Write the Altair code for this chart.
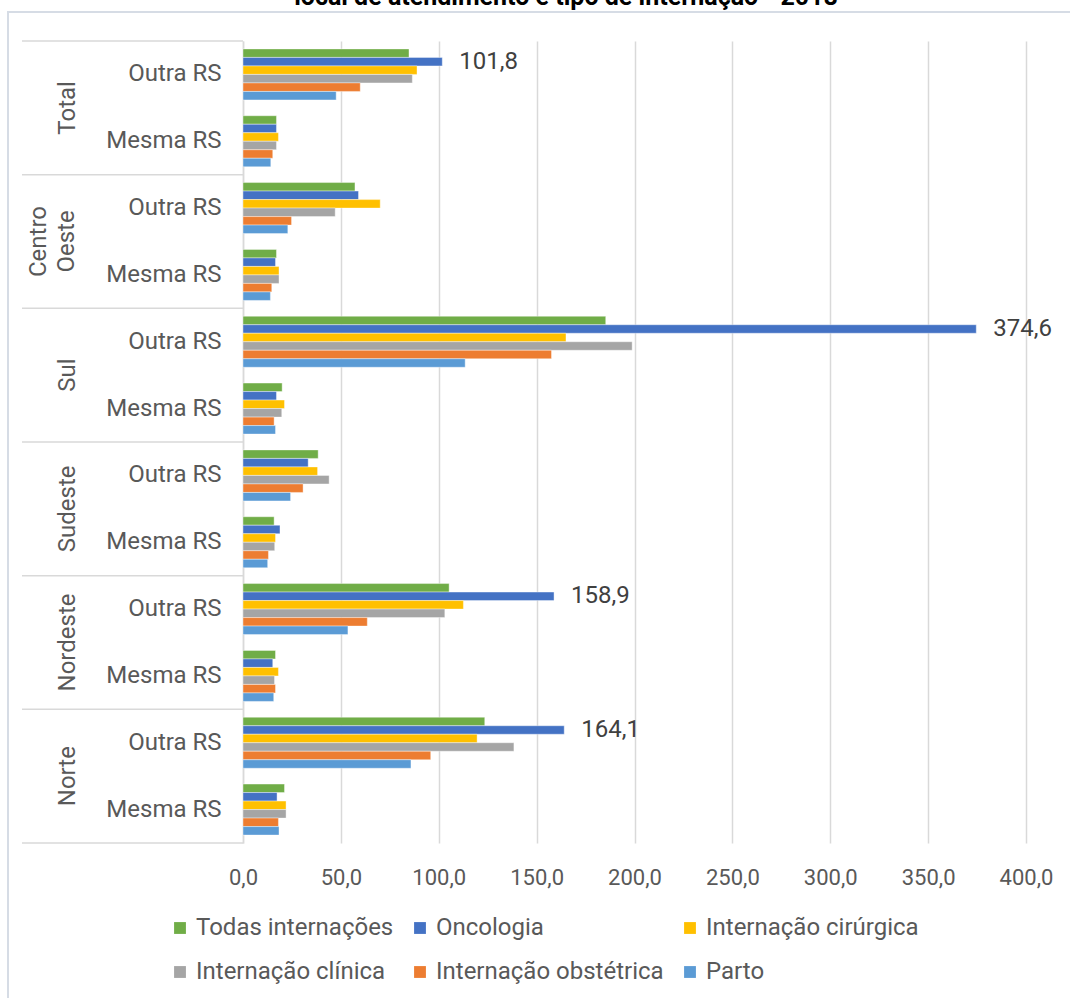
import altair as alt
import pandas as pd

regions = ["Total", "Centro\nOeste", "Sul", "Sudeste", "Nordeste", "Norte"]
subs = ["Outra RS", "Mesma RS"]
keys = [f"{r}|{s}" for r in regions for s in subs]

series = ["Todas internações", "Oncologia", "Internação cirúrgica",
          "Internação clínica", "Internação obstétrica", "Parto"]
colors = ["#70AD47", "#4472C4", "#FFC000", "#A5A5A5", "#ED7D31", "#5B9BD5"]

# values in key order: Total O, Total M, CO O, CO M, Sul O, Sul M, SE O, SE M, NE O, NE M, N O, N M
todas = [84.8, 17.1, 57.2, 17.1, 185.3, 20.0, 38.4, 15.9, 105.3, 16.6, 123.5, 21.2]
oncologia = [101.8, 17.1, 59.0, 16.6, 374.6, 17.1, 33.3, 18.9, 158.9, 15.2, 164.1, 17.4]
cirurgica = [88.9, 18.1, 70.1, 18.4, 165.0, 21.2, 38.1, 16.6, 112.6, 18.1, 119.6, 22.0]
clinica = [86.5, 17.1, 47.1, 18.4, 198.8, 19.8, 44.0, 16.2, 103.1, 16.1, 138.4, 22.0]
obstetrica = [59.9, 15.2, 24.8, 14.7, 157.6, 15.9, 30.7, 13.0, 63.5, 16.6, 95.9, 18.1]
parto = [47.6, 14.2, 22.9, 14.0, 113.5, 16.6, 24.3, 12.6, 53.6, 15.7, 85.8, 18.4]

label_keys = ["Total|Outra RS", "Sul|Outra RS", "Nordeste|Outra RS", "Norte|Outra RS"]
label_values = [101.8, 374.6, 158.9, 164.1]
label_texts = ["101,8", "374,6", "158,9", "164,1"]

all_vals = [todas, oncologia, cirurgica, clinica, obstetrica, parto]
rows = []
for s, vals in zip(series, all_vals):
    for k, v in zip(keys, vals):
        rows.append({"key": k, "series": s, "value": v})
df = pd.DataFrame(rows)

df_lab = pd.DataFrame({"key": label_keys, "value": label_values, "text": label_texts,
                       "series": ["Oncologia"] * 4})
single_regions = [r for r in regions if "\n" not in r]
multi_regions = [r for r in regions if "\n" in r]
df_reg1 = pd.DataFrame({"key": [f"{r}|Outra RS" for r in single_regions], "region": single_regions})
df_reg2 = pd.DataFrame({"key": [f"{r}|Outra RS" for r in multi_regions], "region": multi_regions})
df_sep = pd.DataFrame({"key": [f"{r}|Outra RS" for r in regions]})
df_sep_end = pd.DataFrame({"key": [keys[-1]]})
df_one = pd.DataFrame({"a": [0]})

FONT = "Roboto"
GRAY = "#595959"

yscale = alt.Scale(paddingInner=0, paddingOuter=0)
yaxis = alt.Axis(labelExpr="split(datum.label, '|')[1]", ticks=False,
                 domain=True, domainColor="#d9d9d9", domainWidth=1.5,
                 labelPadding=22, labelFontSize=24, labelColor=GRAY,
                 labelFont=FONT, title=None, grid=False, labelLimit=0)
yoff = alt.YOffset("series:N", sort=series, scale=alt.Scale(paddingOuter=0.93, paddingInner=0))

bars = alt.Chart(df).mark_bar(stroke="white", strokeWidth=0.4).encode(
    x=alt.X("value:Q", scale=alt.Scale(domain=[0, 400], nice=False),
            axis=alt.Axis(values=[0, 50, 100, 150, 200, 250, 300, 350, 400],
                          labelExpr="replace(format(datum.value, '.1f'), '.', ',')",
                          grid=True, gridColor="#d9d9d9", gridWidth=1.5,
                          domain=False, ticks=False, labelPadding=24, labelFlush=False,
                          labelFontSize=22, labelColor=GRAY, labelFont=FONT, title=None)),
    y=alt.Y("key:N", sort=keys, scale=yscale, axis=yaxis),
    yOffset=yoff,
    color=alt.Color("series:N", sort=series,
                    scale=alt.Scale(domain=series, range=colors),
                    legend=alt.Legend(orient="none", legendX=-75, legendY=875,
                                      direction="horizontal", columns=3,
                                      symbolType="square", symbolSize=140,
                                      symbolStrokeWidth=0, labelLimit=0,
                                      labelFontSize=24, labelColor=GRAY, labelFont=FONT,
                                      columnPadding=14, rowPadding=20, labelOffset=4,
                                      title=None)),
)

labels = alt.Chart(df_lab).mark_text(align="left", baseline="middle", dx=17,
                                     fontSize=24, font=FONT, color="#404040").encode(
    x=alt.X("value:Q"),
    y=alt.Y("key:N", sort=keys),
    yOffset=yoff,
    text="text:N",
)

seps = alt.Chart(df_sep).mark_rule(color="#d9d9d9", strokeWidth=1.5).encode(
    y=alt.Y("key:N", sort=keys, bandPosition=0),
    x=alt.value(-221), x2=alt.value(0),
)
sep_end = alt.Chart(df_sep_end).mark_rule(color="#d9d9d9", strokeWidth=1.5).encode(
    y=alt.Y("key:N", sort=keys, bandPosition=1),
    x=alt.value(-221), x2=alt.value(0),
)

reg_labels1 = alt.Chart(df_reg1).mark_text(angle=270, align="center", baseline="bottom",
                                           fontSize=24, font=FONT, color=GRAY).encode(
    y=alt.Y("key:N", sort=keys, bandPosition=1),
    x=alt.value(-163),
    text="region:N",
)
reg_labels2 = alt.Chart(df_reg2).mark_text(angle=270, align="center", baseline="bottom",
                                           lineBreak="\n", fontSize=24, font=FONT,
                                           lineHeight=28, color=GRAY).encode(
    y=alt.Y("key:N", sort=keys, bandPosition=1),
    x=alt.value(-192),
    text="region:N",
)

frame = alt.Chart(df_one).mark_rect(fill="transparent", stroke="#d6dce5", strokeWidth=2).encode(
    x=alt.value(-235), x2=alt.value(840), y=alt.value(-29), y2=alt.value(1000),
)

title = alt.Chart(df_one).mark_text(text="local de atendimento e tipo de internação - 2018",
                                    fontWeight="bold", fontSize=25, font=FONT,
                                    align="center", baseline="alphabetic",
                                    color="#000000").encode(
    x=alt.value(323), y=alt.value(-36),
)

chart = alt.layer(bars, frame, title, labels, seps, sep_end, reg_labels1, reg_labels2).properties(
    width=783, height=802,
    autosize=alt.AutoSizeParams(type="none"),
    padding={"left": 243, "top": 41, "right": 44, "bottom": 155},
    background="white",
).configure_view(stroke=None)

chart.save("out.html", embed_options={"renderer": "svg", "actions": False})
